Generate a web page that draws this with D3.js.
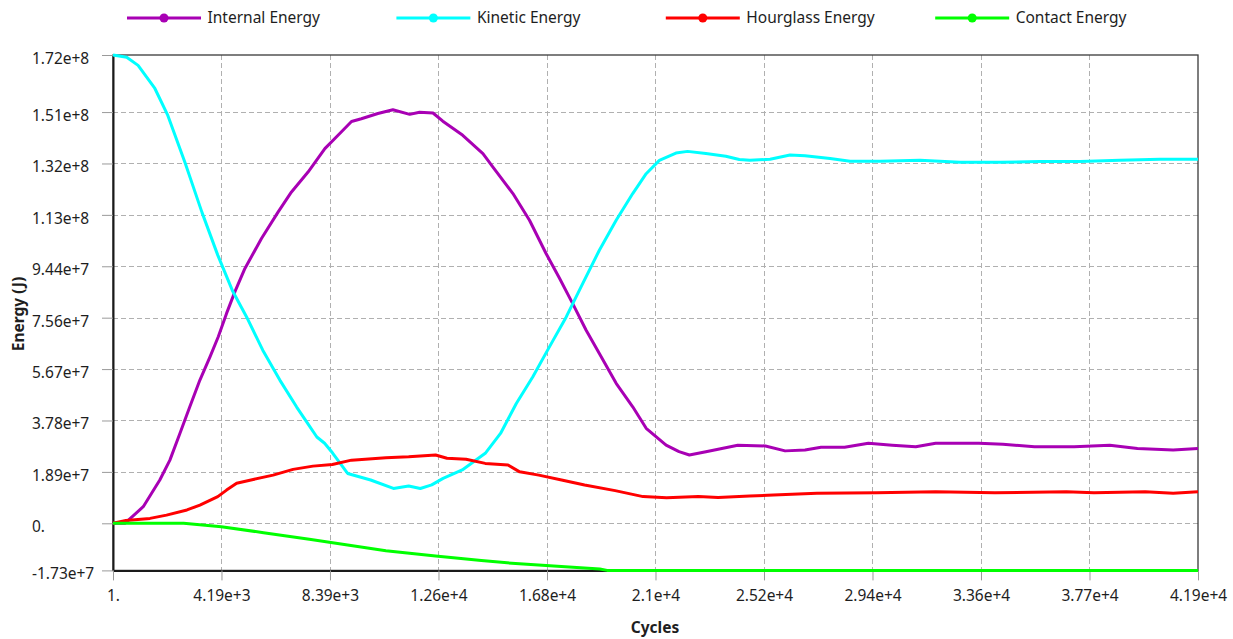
<!DOCTYPE html>
<html>
<head>
<meta charset="utf-8">
<script src="https://cdn.jsdelivr.net/npm/d3@7"></script>
<style>
  html, body { margin: 0; padding: 0; background: #ffffff; }
  svg { display: block; font-family: "Noto Sans", "Open Sans", sans-serif; }
</style>
</head>
<body>
<svg id="chart" width="1233" height="639"></svg>
<script>
// Energy histories, [cycle, energy in J]
const internalEnergy = [
  [1, 0], [460, 0], [1170, 6.1e6], [1810, 15.9e6], [2200, 23.2e6], [2590, 33.1e6],
  [2970, 42.8e6], [3360, 52.6e6], [3750, 61.1e6], [4070, 68.5e6], [4390, 77.1e6],
  [4710, 85.0e6], [5100, 93.6e6], [5740, 104.6e6], [6380, 114.3e6], [6900, 121.7e6],
  [7540, 129.0e6], [8190, 137.6e6], [8700, 142.5e6], [9220, 147.6e6], [9600, 148.6e6],
  [10240, 150.5e6], [10820, 151.9e6], [11470, 150.2e6], [11850, 151.0e6], [12370, 150.7e6],
  [12750, 147.7e6], [13520, 142.5e6], [14300, 135.8e6], [14680, 130.9e6], [15460, 121.1e6],
  [16100, 111.3e6], [16740, 99.1e6], [17260, 90.0e6], [17770, 80.7e6], [18290, 70.9e6],
  [18800, 62.4e6], [19450, 51.4e6], [20090, 42.8e6], [20610, 34.9e6], [21380, 28.7e6],
  [21880, 26.3e6], [22280, 25.1e6], [22920, 26.3e6], [24150, 28.7e6], [25220, 28.4e6],
  [25980, 26.6e6], [26750, 26.9e6], [27370, 27.9e6], [28280, 27.9e6], [29200, 29.4e6],
  [30120, 28.7e6], [31030, 28.1e6], [31800, 29.4e6], [33470, 29.4e6], [34400, 29.0e6],
  [35620, 28.1e6], [37150, 28.1e6], [38530, 28.7e6], [39600, 27.5e6], [40980, 26.9e6],
  [41940, 27.5e6]
];

const kineticEnergy = [
  [1, 172e6], [530, 171.2e6], [970, 168.2e6], [1620, 159.7e6], [2120, 149.8e6],
  [2780, 132.6e6], [3440, 114.2e6], [4050, 98.5e6], [4630, 85.2e6], [5170, 75.7e6],
  [5790, 63.6e6], [6450, 52.6e6], [7100, 42.7e6], [7440, 37.9e6], [7880, 31.7e6],
  [8180, 29.4e6], [8490, 25.8e6], [9070, 18.3e6], [9960, 15.9e6], [10840, 12.8e6],
  [11430, 13.7e6], [11880, 12.8e6], [12320, 14.1e6], [12760, 16.5e6], [13500, 19.6e6],
  [14390, 25.7e6], [14980, 33.0e6], [15590, 44.0e6], [16230, 53.8e6], [16870, 64.8e6],
  [17520, 75.8e6], [18160, 88.1e6], [18800, 100.3e6], [19450, 111.3e6], [20090, 121.1e6],
  [20610, 128.4e6], [21120, 133.3e6], [21760, 136.0e6], [22210, 136.6e6], [22920, 135.8e6],
  [23690, 134.8e6], [24210, 133.6e6], [24620, 133.3e6], [25400, 133.7e6], [26170, 135.3e6],
  [26750, 135.0e6], [27720, 134.0e6], [28490, 133.0e6], [29650, 133.0e6], [31190, 133.3e6],
  [32740, 132.6e6], [34290, 132.6e6], [35830, 132.9e6], [37380, 132.9e6], [38920, 133.3e6],
  [40470, 133.7e6], [41940, 133.7e6]
];

const hourglassEnergy = [
  [1, 0], [500, 1.0e6], [1430, 1.8e6], [2070, 3.0e6], [2860, 4.9e6], [3360, 6.7e6],
  [4050, 9.8e6], [4390, 12.2e6], [4780, 14.7e6], [5420, 16.1e6], [6190, 17.7e6],
  [6960, 19.8e6], [7730, 21.0e6], [8480, 21.6e6], [9220, 23.2e6], [10550, 24.1e6],
  [11430, 24.4e6], [12470, 25.1e6], [12910, 23.9e6], [13650, 23.5e6], [14390, 22.0e6],
  [15270, 21.4e6], [15720, 18.9e6], [16460, 17.7e6], [17340, 15.9e6], [18230, 14.1e6],
  [19410, 12.0e6], [20490, 9.8e6], [21400, 9.4e6], [22630, 9.8e6], [23390, 9.5e6],
  [24610, 10.0e6], [25530, 10.4e6], [27210, 11.0e6], [29510, 11.2e6], [31800, 11.6e6],
  [34090, 11.2e6], [36850, 11.6e6], [37920, 11.2e6], [39900, 11.6e6], [40980, 11.0e6],
  [41940, 11.6e6]
];

const contactEnergy = [
  [1, 0], [2730, 0], [4190, -1.25e6], [5820, -3.45e6], [7590, -5.87e6], [9070, -7.96e6],
  [10550, -10.06e6], [12470, -12.0e6], [14240, -13.7e6], [15710, -14.9e6],
  [17330, -15.9e6], [18820, -16.8e6], [19100, -17.3e6], [41940, -17.3e6]
];

const seriesNames = ["Internal Energy", "Kinetic Energy", "Hourglass Energy", "Contact Energy"];
const seriesColors = ["#a800b4", "#00ffff", "#ff0000", "#00ff00"];
const seriesData = [internalEnergy, kineticEnergy, hourglassEnergy, contactEnergy];

const xTickValues = [1, 4194, 8388, 12582, 16776, 20970, 25164, 29358, 33552, 37746, 41940];
const xTickLabels = ["1.", "4.19e+3", "8.39e+3", "1.26e+4", "1.68e+4", "2.1e+4",
                     "2.52e+4", "2.94e+4", "3.36e+4", "3.77e+4", "4.19e+4"];
const yTickValues = [-17.3e6, 0, 18.88e6, 37.76e6, 56.64e6, 75.52e6, 94.4e6,
                     113.28e6, 132.16e6, 151.04e6, 172e6];
const yTickLabels = ["-1.73e+7", "0.", "1.89e+7", "3.78e+7", "5.67e+7", "7.56e+7",
                     "9.44e+7", "1.13e+8", "1.32e+8", "1.51e+8", "1.72e+8"];

const svg = d3.select("#chart");
const plot = { left: 113, right: 1198, top: 55, bottom: 570.4 };

const x = d3.scaleLinear().domain([1, 41940]).range([plot.left, plot.right]);
const y = d3.scaleLinear().domain([-17.3e6, 172e6]).range([plot.bottom, plot.top]);

const fontSize = 15.5;
const textColor = "#1e1e1e";

// dashed grid
const grid = svg.append("g");
grid.selectAll("line.gy")
  .data(yTickValues.slice(1, -1))
  .join("line")
  .attr("x1", plot.left).attr("x2", plot.right)
  .attr("y1", d => Math.round(y(d)) + 0.5).attr("y2", d => Math.round(y(d)) + 0.5)
  .attr("stroke", "#b0b0b0").attr("stroke-width", 1).attr("stroke-dasharray", "5,3");
grid.selectAll("line.gx")
  .data(xTickValues.slice(1, -1))
  .join("line")
  .attr("y1", plot.top).attr("y2", plot.bottom)
  .attr("x1", d => Math.round(x(d)) + 0.5).attr("x2", d => Math.round(x(d)) + 0.5)
  .attr("stroke", "#b0b0b0").attr("stroke-width", 1).attr("stroke-dasharray", "5,3");

// frame
svg.append("rect")
  .attr("x", plot.left).attr("y", plot.top)
  .attr("width", plot.right - plot.left).attr("height", plot.bottom - plot.top)
  .attr("fill", "none").attr("stroke", "#3a3a3a").attr("stroke-width", 1.3);

// y axis
const yAxis = svg.append("g")
  .attr("transform", `translate(${plot.left},0)`)
  .call(d3.axisLeft(y).tickValues(yTickValues).tickFormat((d, i) => yTickLabels[i]).tickSize(11).tickSizeOuter(0));
yAxis.select(".domain").attr("stroke", "#1a1a1a").attr("stroke-width", 2);
yAxis.selectAll(".tick line").attr("stroke", "#9a9a9a");
yAxis.selectAll(".tick text")
  .attr("x", 32 - plot.left).attr("dy", "0.35em").attr("y", 3)
  .attr("text-anchor", "start")
  .attr("fill", textColor).style("font-size", fontSize + "px")
  .style("font-family", '"Noto Sans", "Open Sans", sans-serif');

// x axis
const xAxis = svg.append("g")
  .attr("transform", `translate(0,${plot.bottom})`)
  .call(d3.axisBottom(x).tickValues(xTickValues).tickFormat((d, i) => xTickLabels[i]).tickSize(10).tickSizeOuter(0));
xAxis.select(".domain").attr("stroke", "#1a1a1a").attr("stroke-width", 2);
xAxis.selectAll(".tick line").attr("stroke", "#9a9a9a");
xAxis.selectAll(".tick text")
  .attr("y", 25).attr("dy", "0.35em")
  .attr("fill", textColor).style("font-size", fontSize + "px")
  .style("font-family", '"Noto Sans", "Open Sans", sans-serif');

// axis titles
svg.append("text")
  .attr("transform", "translate(19,314) rotate(-90)")
  .attr("text-anchor", "middle").attr("dy", "0.35em")
  .attr("font-weight", "bold").style("font-size", fontSize + "px")
  .attr("fill", textColor).text("Energy (J)");
svg.append("text")
  .attr("x", 655).attr("y", 628).attr("dy", "0.35em")
  .attr("text-anchor", "middle")
  .attr("font-weight", "bold").style("font-size", fontSize + "px")
  .attr("fill", textColor).text("Cycles");

// series
const line = d3.line().x(d => x(d[0])).y(d => y(d[1]));
svg.append("g")
  .selectAll("path")
  .data(seriesData)
  .join("path")
  .attr("d", line)
  .attr("fill", "none")
  .attr("stroke", (d, i) => seriesColors[i])
  .attr("stroke-width", 3)
  .attr("stroke-linejoin", "round");

// legend
const legend = svg.append("g");
const item = legend.selectAll("g")
  .data(seriesNames)
  .join("g")
  .attr("transform", (d, i) => `translate(${127 + i * 269.4},18)`);
item.append("line")
  .attr("x1", 0).attr("x2", 74).attr("y1", 0).attr("y2", 0)
  .attr("stroke", (d, i) => seriesColors[i]).attr("stroke-width", 3);
item.append("circle")
  .attr("cx", 37).attr("cy", 0).attr("r", 4.5)
  .attr("fill", (d, i) => seriesColors[i]);
item.append("text")
  .attr("x", 80.5).attr("y", 0).attr("dy", "0.35em")
  .style("font-size", fontSize + "px")
  .attr("fill", textColor)
  .text(d => d);
</script>
</body>
</html>
